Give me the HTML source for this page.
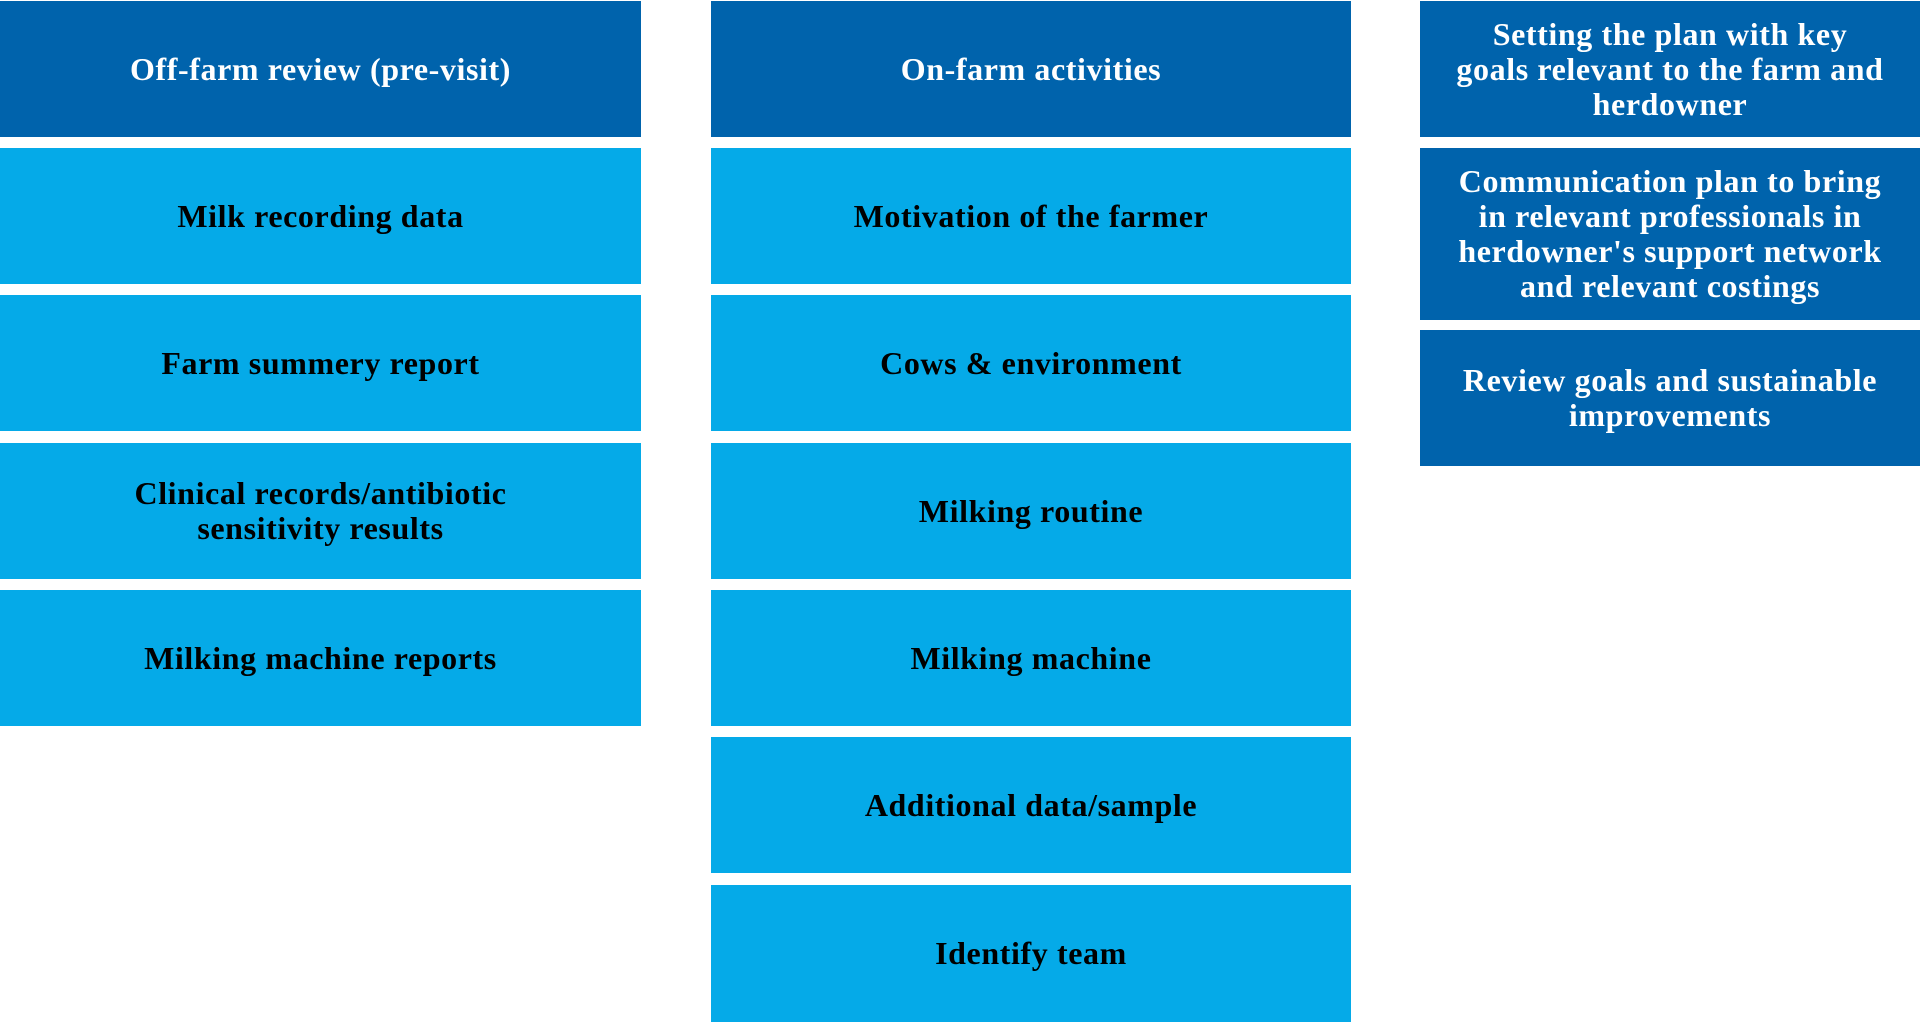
<!DOCTYPE html>
<html><head><meta charset="utf-8"><style>
html,body{margin:0;padding:0;background:#fff;width:1920px;height:1022px;overflow:hidden;position:relative}
.b{position:absolute;display:flex;align-items:center;justify-content:center;box-sizing:border-box}
.b>div{width:100%;text-align:center;font-family:"Liberation Serif",serif;font-weight:bold;font-size:32px;line-height:35px;letter-spacing:0.6px}
.d{background:#0063AC;color:#fff}
.l{background:#05AAE8;color:#000}
</style></head><body>
<div class="b d" style="left:0;top:1px;width:641px;height:136px"><div>Off-farm review (pre-visit)</div></div>
<div class="b l" style="left:0;top:148px;width:641px;height:136px"><div>Milk recording data</div></div>
<div class="b l" style="left:0;top:295px;width:641px;height:136px"><div>Farm summery report</div></div>
<div class="b l" style="left:0;top:443px;width:641px;height:136px"><div>Clinical records/antibiotic<br>sensitivity results</div></div>
<div class="b l" style="left:0;top:590px;width:641px;height:136px"><div>Milking machine reports</div></div>

<div class="b d" style="left:711px;top:1px;width:640px;height:136px"><div>On-farm activities</div></div>
<div class="b l" style="left:711px;top:148px;width:640px;height:136px"><div>Motivation of the farmer</div></div>
<div class="b l" style="left:711px;top:295px;width:640px;height:136px"><div>Cows &amp; environment</div></div>
<div class="b l" style="left:711px;top:443px;width:640px;height:136px"><div>Milking routine</div></div>
<div class="b l" style="left:711px;top:590px;width:640px;height:136px"><div>Milking machine</div></div>
<div class="b l" style="left:711px;top:737px;width:640px;height:136px"><div>Additional data/sample</div></div>
<div class="b l" style="left:711px;top:885px;width:640px;height:137px"><div>Identify team</div></div>

<div class="b d" style="left:1420px;top:1px;width:500px;height:136px"><div>Setting the plan with key<br>goals relevant to the farm and<br>herdowner</div></div>
<div class="b d" style="left:1420px;top:148px;width:500px;height:172px"><div>Communication plan to bring<br>in relevant professionals in<br>herdowner's support network<br>and relevant costings</div></div>
<div class="b d" style="left:1420px;top:330px;width:500px;height:136px"><div>Review goals and sustainable<br>improvements</div></div>
</body></html>
